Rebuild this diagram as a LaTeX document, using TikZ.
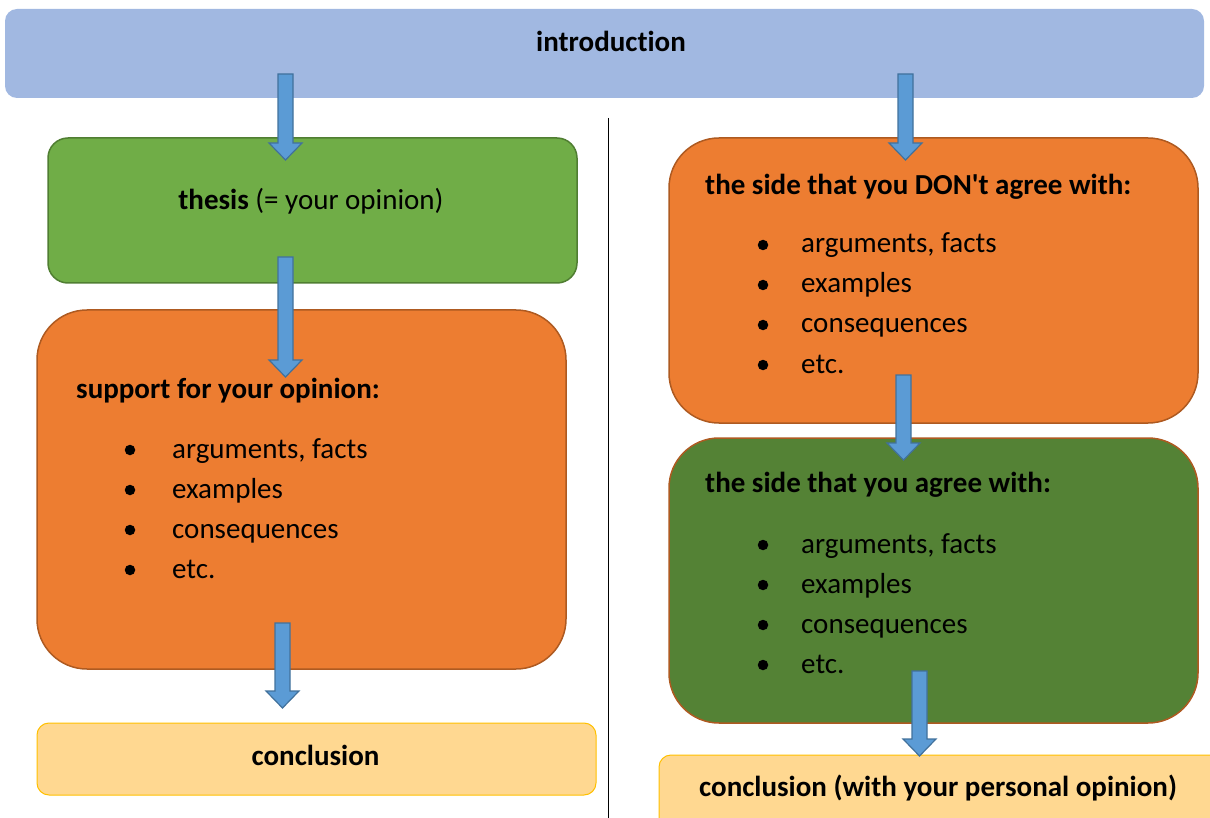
\documentclass[tikz,border=0pt]{standalone}
\usepackage{fontspec}
\setmainfont{Carlito}[Ligatures={NoCommon}]
\definecolor{introC}{HTML}{A1B8E1}
\definecolor{thesisC}{HTML}{70AD47}
\definecolor{thesisB}{HTML}{507E32}
\definecolor{orangeC}{HTML}{ED7D31}
\definecolor{orangeB}{HTML}{AE5A21}
\definecolor{dgreenC}{HTML}{548235}
\definecolor{conclC}{HTML}{FFD891}
\definecolor{conclB}{HTML}{FFC000}
\definecolor{arrowC}{HTML}{5B9BD5}
\definecolor{arrowB}{HTML}{41719C}
\newcommand\bodyfont{\fontsize{29}{34}\selectfont}
\tikzset{
  box/.style={line width=1.5pt},
  txt/.style={inner sep=0pt, font=\bodyfont},
  boldtxt/.style={inner sep=0pt, font=\bodyfont\bfseries},
  headtxt/.style={boldtxt, anchor=base west},
  itemtxt/.style={txt, anchor=base west},
  dot/.style={circle, fill=black, inner sep=0pt, minimum size=10.5pt},
  pics/barrow/.style={code={
    \draw[fill=arrowC, draw=arrowB, line width=1.2pt, line join=miter]
      (-7.5,0) -- (-7.5,{#1-17}) -- (-16.5,{#1-17}) -- (0,#1) -- (16.5,{#1-17}) -- (7.5,{#1-17}) -- (7.5,0) -- cycle;
  }}
}
\begin{document}
\begin{tikzpicture}[x=1pt,y=-1pt]
\useasboundingbox (0,0) rectangle (1210,818);
\clip (0,0) rectangle (1210,818);
% boxes
\node[box, fill=introC, draw=none, rounded corners=12pt, minimum width=1199pt, minimum height=89pt, inner sep=0pt] (intro) at (604.5,53.5) {};
\node[box, fill=thesisC, draw=thesisB, rounded corners=20pt, minimum width=529pt, minimum height=145pt, inner sep=0pt] (thesis) at (312.5,210.5) {};
\node[box, fill=orangeC, draw=orangeB, rounded corners=50pt, minimum width=529pt, minimum height=359pt, inner sep=0pt] (support) at (301.5,489.5) {};
\node[box, fill=conclC, draw=conclB, rounded corners=12pt, minimum width=559pt, minimum height=72pt, inner sep=0pt, line width=1pt] (concl) at (316.5,759) {};
\node[box, fill=orangeC, draw=orangeB, rounded corners=50pt, minimum width=529pt, minimum height=285pt, inner sep=0pt] (dont) at (933.5,280.5) {};
\node[box, fill=dgreenC, draw=orangeB, rounded corners=50pt, minimum width=529pt, minimum height=285pt, inner sep=0pt] (agree) at (933.5,580.5) {};
\node[box, fill=conclC, draw=conclB, rounded corners=12pt, minimum width=580pt, minimum height=90pt, inner sep=0pt, line width=1pt] (concl2) at (949,800) {};
% divider
\coordinate (divtop) at (608,118);
\coordinate (divbot) at (608,818);
\draw[line width=1pt] (divtop) -- (divbot);
% texts
\node[boldtxt, anchor=base] (tintro) at (611,52) {introduction};
\node[txt, anchor=base] (tthesis) at (311,210) {\textbf{thesis} (= your opinion)};
\node[headtxt] (tsupport) at (76,398) {support for your opinion:};
\node[headtxt] (tdont) at (705,195) {the side that you DON\textquotesingle t agree with:};
\node[headtxt] (tagree) at (705,492) {the side that you agree with:};
\node[boldtxt, anchor=base] (tconcl) at (315.5,765) {conclusion};
\node[boldtxt, anchor=base] (tconcl2) at (938,796) {conclusion (with your personal opinion)};
% bullet lists
\foreach \y/\t [count=\i] in {450/{arguments, facts},490/{examples},530/{consequences},570/{etc.}}{
  \node[dot] (ls\i) at (130,\y) {};
  \node[itemtxt] (lt\i) at (172,{\y+8}) {\t};
}
\foreach \y/\t [count=\i] in {245/{arguments, facts},285/{examples},325/{consequences},365/{etc.}}{
  \node[dot] (ds\i) at (763,\y) {};
  \node[itemtxt] (dt\i) at (801,{\y+8}) {\t};
}
\foreach \y/\t [count=\i] in {545/{arguments, facts},585/{examples},625/{consequences},665/{etc.}}{
  \node[dot] (as\i) at (763,\y) {};
  \node[itemtxt] (at\i) at (801,{\y+8}) {\t};
}
% block arrows
\coordinate (a1) at (285.5,74);
\coordinate (a2) at (285.5,257);
\coordinate (a3) at (282.5,623);
\coordinate (a4) at (905.5,74);
\coordinate (a5) at (903.5,375);
\coordinate (a6) at (919.5,671);
\pic at (a1) {barrow=86};
\pic at (a2) {barrow=120};
\pic at (a3) {barrow=85};
\pic at (a4) {barrow=86};
\pic at (a5) {barrow=85};
\pic at (a6) {barrow=85};
\end{tikzpicture}
\end{document}
